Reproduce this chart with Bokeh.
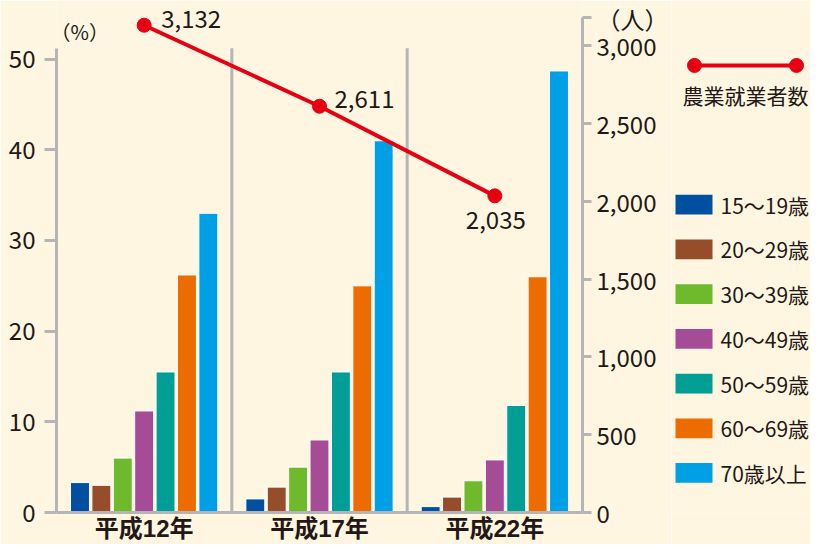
from bokeh.plotting import figure
from bokeh.models import (Range1d, FactorRange, LinearAxis, FixedTicker, ColumnDataSource,
                          NumeralTickFormatter)
from bokeh.transform import dodge
from bokeh.layouts import row
from bokeh.embed import file_html
from bokeh.resources import INLINE
from bokeh.core.properties import value

# ---------------- data ----------------
years = ["平成12年", "平成17年", "平成22年"]
age_groups = ["15～19歳", "20～29歳", "30～39歳", "40～49歳", "50～59歳", "60～69歳", "70歳以上"]
share_15_19 = [3.3, 1.5, 0.65]
share_20_29 = [3.0, 2.8, 1.7]
share_30_39 = [6.0, 5.0, 3.5]
share_40_49 = [11.2, 8.0, 5.8]
share_50_59 = [15.5, 15.5, 11.8]
share_60_69 = [26.2, 25.0, 26.0]
share_70_up = [33.0, 41.0, 48.7]
farm_workers = [3132, 2611, 2035]
line_label = "農業就業者数"
left_unit = "（%）"
right_unit = "（人）"
left_ticks = [0, 10, 20, 30, 40, 50]
right_ticks = [0, 500, 1000, 1500, 2000, 2500, 3000]

series = [share_15_19, share_20_29, share_30_39, share_40_49, share_50_59, share_60_69, share_70_up]

# ---------------- styles ----------------
BG = "#FEF6E1"
GRAY = "#B5B5B6"
RED = "#E60012"
INK = "#231815"
FONT = "Noto Sans CJK JP"
CAT_FONT = "Liberation Sans, Noto Sans CJK JP"
bar_colors = ["#0050A2", "#954D2A", "#6EB92C", "#A64B96", "#009E95", "#EC6C00", "#00A0E6"]

LEFT_TOP = 56.47      # left (%) scale over the whole frame height
LEFT_BOUND = 51.2     # where the left axis line and separators stop
RIGHT_TOP = 3290.7
RIGHT_BOUND = 3182

MAIN_W = 671
LEG_W = 810 - MAIN_W

data = {"year": years}
for name, vals in zip(age_groups, series):
    data[name] = vals
src = ColumnDataSource(data)

p = figure(x_range=FactorRange(*years), y_range=Range1d(0, LEFT_TOP),
           width=MAIN_W, height=544, output_backend="svg", toolbar_location=None,
           min_border_left=56, min_border_right=86, min_border_top=0, min_border_bottom=29,
           background_fill_color=BG, border_fill_color=BG, outline_line_color=None)
p.extra_y_ranges = {"workers": Range1d(0, RIGHT_TOP)}
p.xgrid.visible = False
p.ygrid.visible = False

# bars
pitch = 0.122
for i, (name, col) in enumerate(zip(age_groups, bar_colors)):
    p.vbar(x=dodge("year", (i - 3) * pitch, range=p.x_range), top=name, width=0.108,
           source=src, fill_color=col, line_color="white", line_width=1)

# category separators
seps = list(range(1, len(years)))
p.segment(x0=seps, y0=[0] * len(seps), x1=seps, y1=[LEFT_BOUND] * len(seps),
          line_color=GRAY, line_width=3)

# left axis
ya = p.yaxis[0]
ya.ticker = FixedTicker(ticks=left_ticks)
ya.bounds = (0, LEFT_BOUND)

# right axis (unit label shown as the top tick's label)
ra = LinearAxis(y_range_name="workers",
                ticker=FixedTicker(ticks=right_ticks + [RIGHT_BOUND]),
                formatter=NumeralTickFormatter(format="0,0"),
                major_label_overrides={RIGHT_BOUND: right_unit},
                bounds=(0, RIGHT_BOUND))
p.add_layout(ra, "right")

for ax, tout, so in ((ya, 12, 9), (ra, 9, 5)):
    ax.axis_line_color = GRAY
    ax.axis_line_width = 3
    ax.major_tick_line_color = GRAY
    ax.major_tick_line_width = 3
    ax.major_tick_in = 0
    ax.major_tick_out = tout
    ax.minor_tick_line_color = None
    ax.major_label_text_font = FONT
    ax.major_label_text_font_size = "24px"
    ax.major_label_text_color = INK
    ax.major_label_standoff = so

xa = p.xaxis[0]
xa.axis_line_color = GRAY
xa.axis_line_width = 3
xa.major_tick_line_color = None
xa.major_tick_in = 0
xa.major_tick_out = 0
xa.major_label_text_font = CAT_FONT
xa.major_label_text_font_style = "bold"
xa.major_label_text_font_size = "24px"
xa.major_label_text_color = INK
xa.major_label_standoff = 2

# line series
p.line(x=years, y=farm_workers, y_range_name="workers", line_color=RED, line_width=4)
p.scatter(x=years, y=farm_workers, y_range_name="workers", size=14,
          fill_color=RED, line_color=RED)
p.text(x=years, y=farm_workers, text=[f"{v:,}" for v in farm_workers],
       y_range_name="workers", x_offset=[17, 15, -29], y_offset=[-6, -7, 24],
       text_align="left", text_baseline="middle",
       text_font=value(FONT), text_font_size="24px", text_color=INK)

# (%) unit label just inside the plot area, above the left axis
p.text(x=[0], y=[53.1], text=[left_unit], x_offset=[-6], text_align="left",
       text_baseline="middle", text_font=value(FONT), text_font_size="20px", text_color=INK)

# ---------------- legend panel ----------------
q = figure(x_range=Range1d(MAIN_W, 810), y_range=Range1d(544, 0), width=LEG_W, height=544,
           output_backend="svg", toolbar_location=None, min_border=0,
           x_axis_location=None, y_axis_location=None,
           background_fill_color=BG, border_fill_color=BG, outline_line_color=None)
q.xgrid.visible = False
q.ygrid.visible = False

key_x = [694, 796]
key_y = [69, 69]
q.line(x=key_x, y=key_y, line_color=RED, line_width=4)
q.scatter(x=key_x, y=key_y, size=14, fill_color=RED, line_color=RED)
q.text(x=[745], y=[100], text=[line_label], text_align="center", text_baseline="middle",
       text_font=value(FONT), text_font_size="21px", text_color=INK)

leg_y = [217 + 47.5 * i for i in range(len(age_groups))]
q.rect(x=[693.5] * len(age_groups), y=leg_y, width=37, height=21,
       fill_color=bar_colors, line_color=None)
q.text(x=[720] * len(age_groups), y=leg_y, text=age_groups, text_align="left",
       text_baseline="middle", text_font=value(FONT), text_font_size="21px", text_color=INK)

layout = row(p, q, spacing=0)
open("out.html", "w").write(file_html(layout, INLINE))
